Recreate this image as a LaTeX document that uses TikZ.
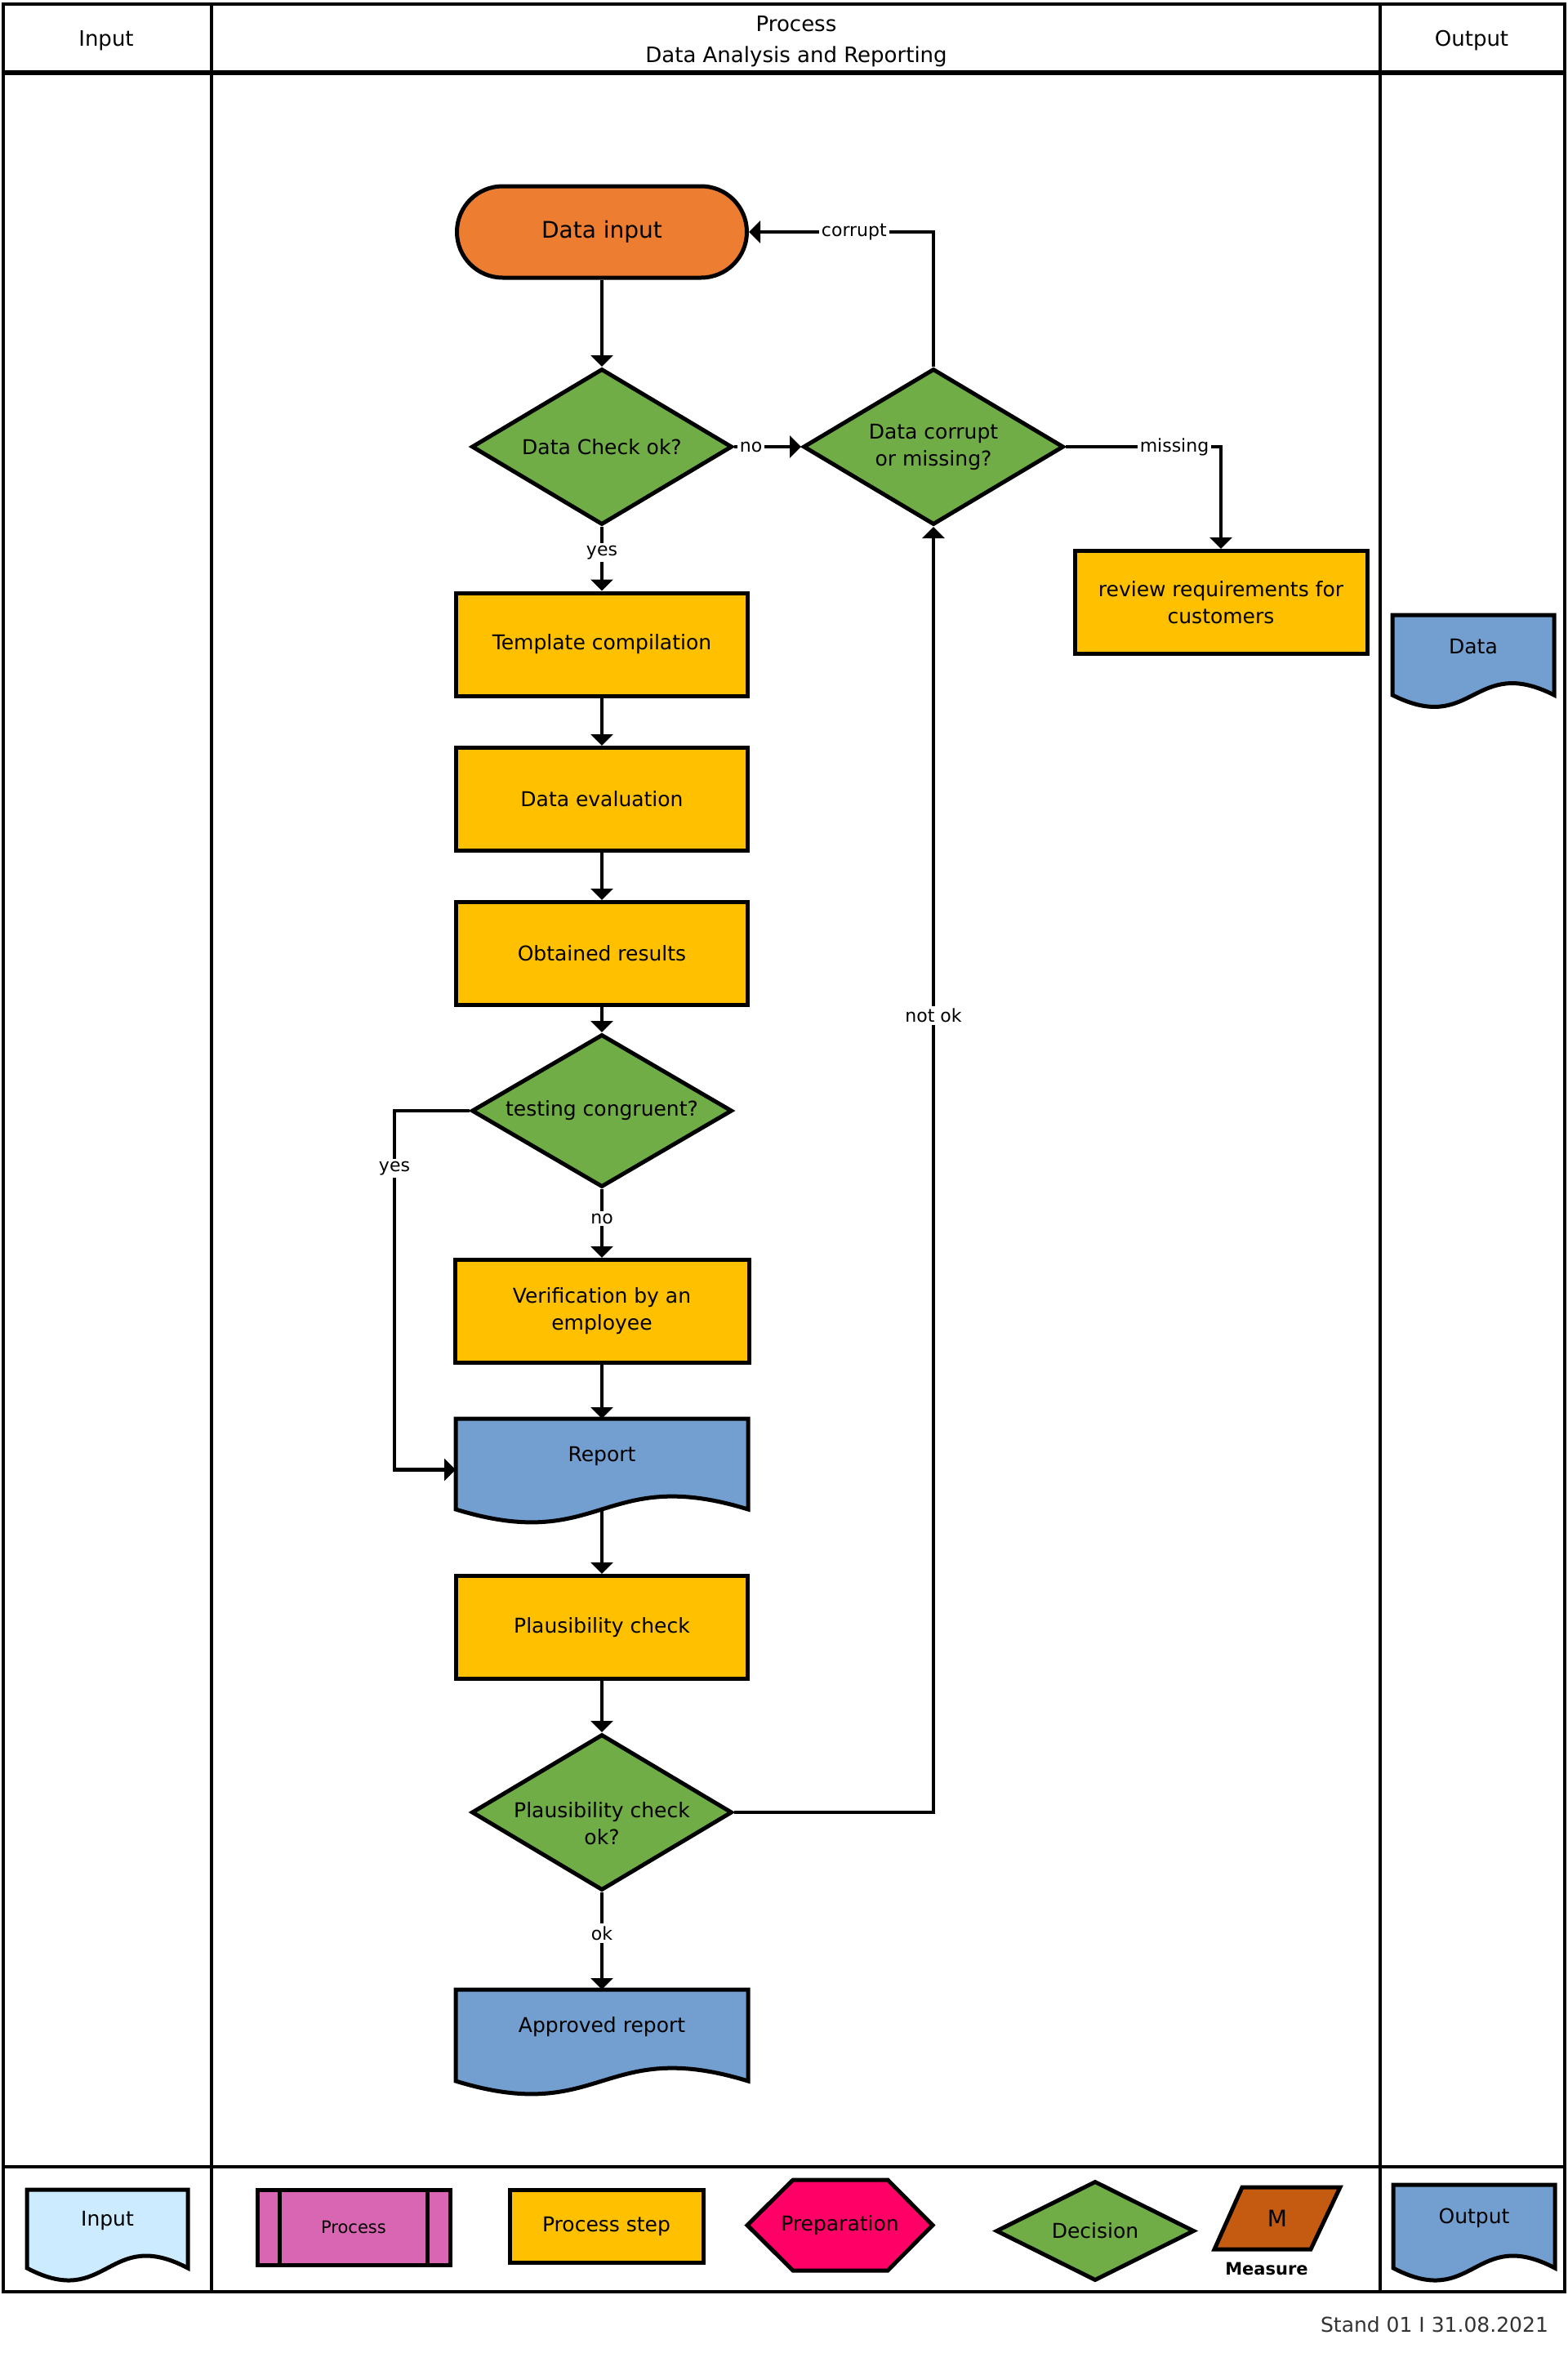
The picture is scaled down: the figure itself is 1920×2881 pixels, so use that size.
\documentclass[tikz,border=0pt]{standalone}
\usepackage{fontspec}
\setmainfont{DejaVu Sans}
\usetikzlibrary{shapes.geometric,arrows.meta,calc,backgrounds}
\definecolor{cOrange}{HTML}{ED7D31}
\definecolor{cGreen}{HTML}{70AD47}
\definecolor{cYellow}{HTML}{FFC000}
\definecolor{cBlue}{HTML}{729FCF}
\definecolor{cLight}{HTML}{CCEBFF}
\definecolor{cPink}{HTML}{D966B3}
\definecolor{cPrep}{HTML}{FF0066}
\definecolor{cMeas}{HTML}{C55A11}
\newcommand\mydocshape[3]{%
  \begin{scope}[on background layer]
    \draw[shp, fill=#3] (#1.north west) -- (#1.north east) -- ($(#1.south east)+(0,20)$)
      .. controls ($(#1.south)+(0,{20-#2})$) and ($(#1.south)+(0,{20+#2})$) .. ($(#1.south west)+(0,20)$) -- cycle;
  \end{scope}}
\begin{document}
\begin{tikzpicture}[x=0.5pt,y=-0.5pt,
  shp/.style={draw=black, line width=2.5pt, line join=miter},
  txt/.style={font=\fontsize{12.5pt}{16.5pt}\selectfont},
  box/.style={shp, txt, fill=cYellow, rectangle, minimum width=178.5pt, minimum height=63pt, align=center, inner sep=0pt},
  dec/.style={shp, txt, fill=cGreen, diamond, minimum width=159.5pt, minimum height=95.5pt, aspect=1.67, inner sep=0pt, align=center},
  docn/.style={txt, rectangle, draw=none, outer sep=0pt, inner sep=0pt, minimum width=179pt, align=center},
  conn/.style={line width=2.1pt, line join=miter, -{Triangle[length=7pt,width=13.5pt]}},
  lbl/.style={fill=white, inner sep=1.5pt, font=\fontsize{11pt}{13pt}\selectfont},
  frame/.style={line width=2.2pt},
  hdr/.style={font=\fontsize{13pt}{19pt}\selectfont, align=center},
]
\useasboundingbox (0,0) rectangle (1920,2881);

% frame
\draw[frame] (4,5) rectangle (1916,2806);
\draw[line width=2.6pt] (4,89) -- (1916,89);
\draw[frame] (4,2653) -- (1916,2653);
\draw[frame] (259,5) -- (259,2806);
\draw[frame] (1690,5) -- (1690,2806);

% headers
\node[hdr] (hin) at (130,50) {Input};
\node[hdr] (hproc) at (975,51) {Process\\Data Analysis and Reporting};
\node[hdr] (hout) at (1802,50) {Output};

% main flow
\node[shp, fill=cOrange, rectangle, rounded corners=28pt, minimum width=177.5pt, minimum height=56pt, font=\fontsize{14pt}{17pt}\selectfont] (din) at (737,284) {Data input};
\node[dec] (dchk) at (737,547) {Data Check ok?};
\node[dec] (dcor) at (1143,547) {Data corrupt\\or missing?};
\node[box, minimum width=179pt] (rev) at (1495,737.5) {review requirements for\\customers};
\node[box] (tmpl) at (737,789) {Template compilation};
\node[box] (eval) at (737,978.5) {Data evaluation};
\node[box] (obt) at (737,1167.5) {Obtained results};
\node[dec, minimum height=93.5pt] (test) at (737,1360) {testing congruent?};
\node[box, minimum width=180pt] (verif) at (737,1605.5) {Verification by an\\employee};
\node[docn, minimum height=45.5pt] (report) at (737,1782.5) {Report};
\mydocshape{report}{55}{cBlue}
\node[box] (pbox) at (737,1992.5) {Plausibility check};
\node[dec] (pdia) at (737,2219) {\raisebox{-11pt}[0pt][0pt]{\begin{tabular}{@{}c@{}}Plausibility check\\ok?\end{tabular}}};
\node[docn, minimum height=46pt] (appr) at (737,2482) {Approved report};
\mydocshape{appr}{55}{cBlue}
\node[docn, minimum width=99pt, minimum height=39pt] (data) at (1804,792) {Data};
\mydocshape{data}{50}{cBlue}

% connectors
\draw[conn] (din.south) -- (dchk.north);
\draw[conn] (dchk.east) -- node[lbl,pos=0.25]{no} (dcor.west);
\draw[conn] (dchk.south) -- node[lbl,pos=0.4]{yes} (tmpl.north);
\draw[conn] (dcor.north) |- node[lbl,pos=0.715]{corrupt} (din.east);
\draw[conn] (dcor.east) -| node[lbl,pos=0.35]{missing} (rev.north);
\draw[conn] (tmpl.south) -- (eval.north);
\draw[conn] (eval.south) -- (obt.north);
\draw[conn] (obt.south) -- (test.north);
\coordinate (ycorner) at ($(report.west)+(-75,17)$);
\draw[conn] (test.west) -| node[lbl,pos=0.58]{yes} (ycorner) -- ($(report.west)+(0,17)$);
\draw[conn] (test.south) -- node[lbl,pos=0.43]{no} (verif.north);
\draw[conn] (verif.south) -- (report.north);
\draw[conn] ($(report.south)+(0,20)$) -- (pbox.north);
\draw[conn] (pbox.south) -- (pdia.north);
\draw[conn] (pdia.south) -- node[lbl,pos=0.42]{ok} (appr.north);
\draw[conn] (pdia.east) -| node[lbl,pos=0.81]{not ok} (dcor.south);

% legend
\node[docn, minimum width=98.5pt, minimum height=38pt] (lin) at (131.5,2719) {Input};
\mydocshape{lin}{52}{cLight}
\node[shp, fill=cPink, minimum width=118pt, minimum height=46pt, inner sep=0pt, font=\fontsize{10.5pt}{12pt}\selectfont] (lproc) at (433,2727) {Process};
\draw[line width=2.2pt] ($(lproc.north west)+(30,0)$) -- ($(lproc.south west)+(30,0)$);
\draw[line width=2.2pt] ($(lproc.north east)+(-30,0)$) -- ($(lproc.south east)+(-30,0)$);
\node[shp, txt, fill=cYellow, minimum width=118.5pt, minimum height=44.5pt, inner sep=0pt] (lstep) at (742.5,2725.5) {Process step};
\node[txt, inner sep=0pt] (lprep) at (1028.5,2724.5) {Preparation};
\begin{scope}[on background layer]
\draw[shp, fill=cPrep] ($(lprep)+(-57.5,-55.5)$) -- ($(lprep)+(58.5,-55.5)$) -- ($(lprep)+(113.5,0)$) -- ($(lprep)+(58.5,55.5)$) -- ($(lprep)+(-57.5,55.5)$) -- ($(lprep)+(-113.5,0)$) -- cycle;
\end{scope}
\node[dec, minimum width=121.5pt, minimum height=61pt, aspect=2] (ldec) at (1341,2731.5) {Decision};
\node[inner sep=0pt, font=\fontsize{14pt}{16pt}\selectfont] (lmeas) at (1564,2716) {M};
\begin{scope}[on background layer]
\draw[shp, fill=cMeas] ($(lmeas)+(-43,-38)$) -- ($(lmeas)+(77,-38)$) -- ($(lmeas)+(41,38)$) -- ($(lmeas)+(-77,38)$) -- cycle;
\end{scope}
\node[font=\fontsize{10.5pt}{12pt}\selectfont\bfseries] (lmeast) at (1551,2778) {Measure};
\node[docn, minimum width=99pt, minimum height=41pt] (lout) at (1805,2716) {Output};
\mydocshape{lout}{52}{cBlue}

% footer
\node[anchor=east, font=\fontsize{12.5pt}{15pt}\selectfont, text=black!80] (stand) at (1903,2846) {Stand 01 I 31.08.2021};
\end{tikzpicture}
\end{document}
